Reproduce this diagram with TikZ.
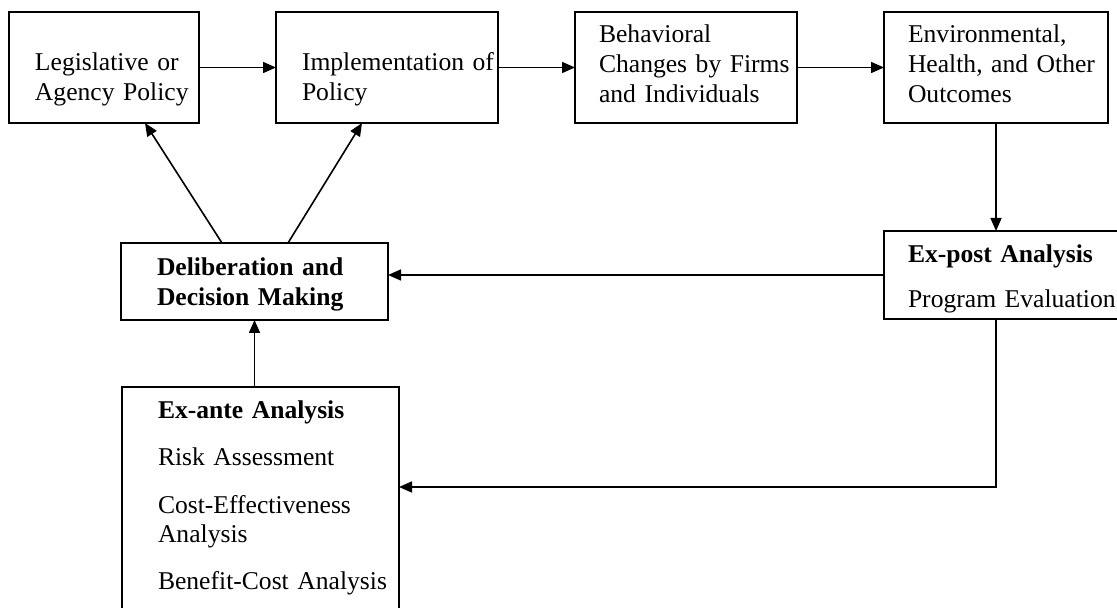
\documentclass[tikz,border=0pt]{standalone}
\usepackage{fontspec}
\setmainfont{Liberation Serif}
\usetikzlibrary{arrows.meta,positioning}

\begin{document}
\begin{tikzpicture}[x=0.5pt, y=-0.5pt, line width=0.8pt, >={Triangle[length=6.5pt,width=5.5pt]},
	box/.style n args={4}{draw, rectangle, anchor=north west, align=left, inner sep=0pt, outer sep=0pt,
		text width=#1, text height=#2, text depth=#3, execute at begin node={\leftskip=#4},
		font=\fontsize{12.8}{15}\selectfont}]
			\useasboundingbox (0,0) rectangle (1117,608);
			\clip (0,0) rectangle (1117,608);
			
			\node[box={95pt}{29.5pt}{26pt}{13pt}] (leg) at (9,12) {Legislative or\\Agency Policy};
			\node[box={111pt}{29.5pt}{26pt}{13pt}, right=38.5pt of leg] (impl) {Implementation of\\Policy};
			\node[box={111pt}{15.5pt}{40pt}{12pt}, right=38.5pt of impl] (behav) {Behavioral\\Changes by Firms\\and Individuals};
			\node[box={112pt}{15.5pt}{40pt}{12pt}, right=43.5pt of behav] (outc) {Environmental,\\Health, and Other\\Outcomes};
			\node[box={125pt}{16pt}{28pt}{12pt}, below=54pt of outc.south west, anchor=north west] (expost) {\textbf{Ex-post Analysis}\\[7.5pt]Program Evaluation};
			\node[box={133.5pt}{16.5pt}{22pt}{18pt}] (delib) at (121,243) {\textbf{Deliberation and}\\\textbf{Decision Making}};
			\node[box={138.5pt}{15.5pt}{125pt}{18pt}, below=33.5pt of delib.south west, anchor=north west, xshift=0.5pt] (exante) {\textbf{Ex-ante Analysis}\\[8.5pt]Risk Assessment\\[9pt]Cost-Effectiveness\\Analysis\\[8pt]Benefit-Cost Analysis};
			
			\path[->] (leg) edge (impl);
			\path[->] (impl) edge (behav);
			\path[->] (behav) edge (outc);
			\path[->] (outc.south) edge (outc.south |- expost.north);
			\path[->] (expost.west) edge (expost.west -| delib.east);
			\path[->] ([xshift=-16.25pt]delib.north) edge ([xshift=20.5pt]leg.south);
			\path[->] ([xshift=16.75pt]delib.north) edge ([xshift=-12.5pt]impl.south);
			\path[->] (exante.north -| delib.south) edge (delib.south);
			\draw[->] (expost.south -| outc.south) |- ([yshift=-50pt]exante.north east);
		\end{tikzpicture}
\end{document}
